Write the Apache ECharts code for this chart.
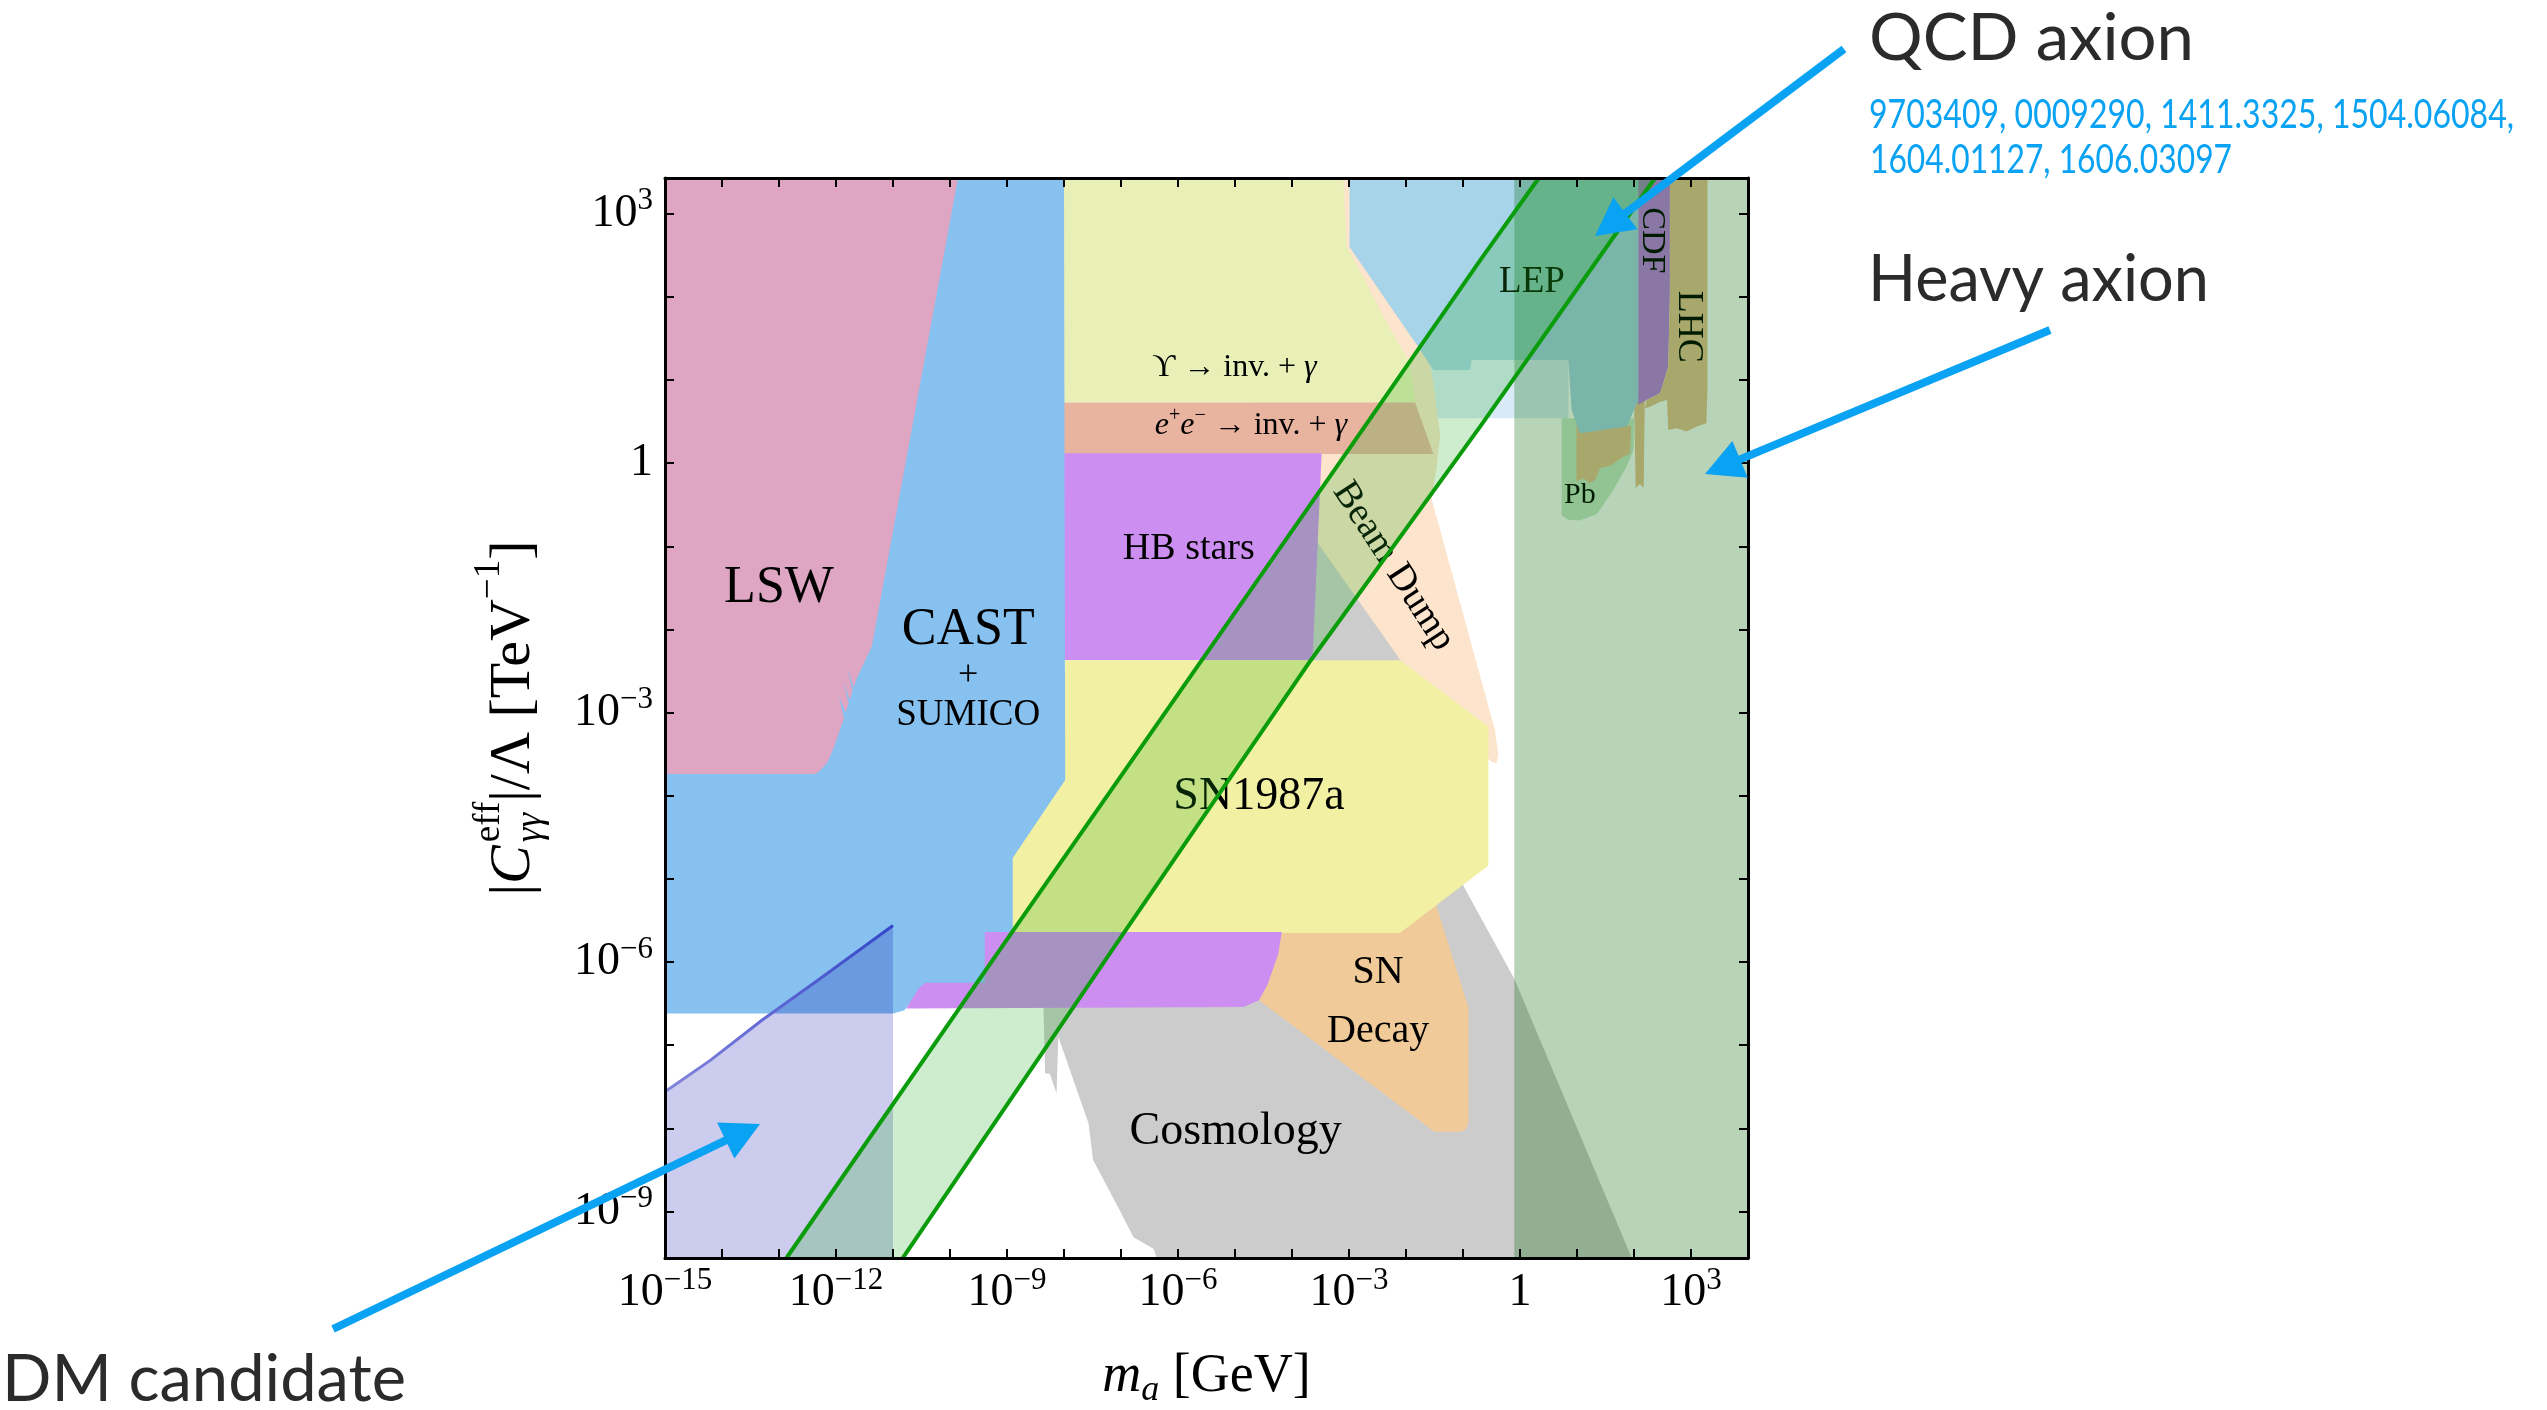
<!DOCTYPE html>
<html>
<head>
<meta charset="utf-8">
<script src="https://cdn.jsdelivr.net/npm/echarts@6/dist/echarts.min.js"></script>
<style>
  html, body { margin: 0; padding: 0; background: #ffffff; }
  #chart { width: 2547px; height: 1410px; }
</style>
</head>
<body>
<div id="chart"></div>
<script>
// Axis ranges, in log10 units (m_a in GeV, |C_gg^eff|/Lambda in TeV^-1)
const X_MIN = -15, X_MAX = 4;
const Y_MIN = -9.56, Y_MAX = 3.43;

const xTickDecades = [-15, -14, -13, -12, -11, -10, -9, -8, -7, -6, -5, -4, -3, -2, -1, 0, 1, 2, 3, 4];
const xLabelDecades = [-15, -12, -9, -6, -3, 0, 3];
const yTickDecades = [-9, -8, -7, -6, -5, -4, -3, -2, -1, 0, 1, 2, 3];
const yLabelDecades = [-9, -6, -3, 0, 3];

// Excluded regions: vertices as [log10 m_a, log10 coupling]
const cosmology = [[-8.36, -6.56], [-8.36, -2.5], [-3.72, -2.5], [-3.9, -0.6], [-2.0, -2.36], [-2.3, -2.7],
  [-0.98, -5.10], [-0.10, -6.20], [1.96, -9.56], [-6.37, -9.56], [-6.43, -9.45], [-6.78, -9.31],
  [-7.08, -8.91], [-7.49, -8.38], [-7.57, -7.94], [-8.10, -6.90], [-8.13, -7.58], [-8.25, -7.34], [-8.33, -7.34]];
const lepLow = [[-1.75, 1.3], [0.85, 1.3], [0.85, 0.54], [-1.75, 0.54]];
const beamDump = [[-4.7, 3.43], [-2.95, 3.43], [-2.95, 2.6], [-1.6, 1.3], [-1.53, 1.0], [-1.50, 0.86],
  [-1.40, 0.345], [-1.46, -0.04], [-1.55, -0.43], [-0.44, -3.21], [-0.38, -3.50], [-0.41, -3.61],
  [-0.50, -3.59], [-0.7, -3.45], [-2.105, -2.36], [-3.57, -0.94], [-4.7, 0.2]];
const upsilon = [[-8, 3.43], [-3.10, 3.43], [-3.04, 2.60], [-2.75, 2.24], [-2.43, 1.81], [-2.08, 1.38],
  [-1.93, 1.20], [-1.84, 0.73], [-8, 0.73]];
const eeBand = [[-8, 0.73], [-1.84, 0.73], [-1.52, 0.11], [-8, 0.11]];
const hbStars = [[-8, 0.12], [-3.48, 0.12], [-3.64, -2.37], [-8, -2.37]];
const snDecay = [[-4.2, -5.55], [-2.105, -5.55], [-1.50, -5.25], [-0.905, -6.55], [-0.905, -7.93],
  [-0.95, -8.01], [-1.03, -8.04], [-1.50, -8.04], [-4.58, -6.46], [-4.43, -6.27], [-4.24, -5.90]];
const sn1987a = [[-7.98, -2.37], [-2.105, -2.37], [-0.555, -3.17], [-0.555, -4.84], [-2.105, -5.65],
  [-9.39, -5.65], [-9.39, -5.21], [-9.09, -4.94], [-9.07, -5.60], [-8.98, -5.60], [-8.97, -4.77], [-7.98, -3.81]];
const castSumico = [[-15, 3.43], [-8, 3.43], [-7.98, -3.81], [-8.9, -4.75], [-8.9, -6.3], [-10.43, -6.3],
  [-10.58, -6.38], [-10.80, -6.58], [-10.99, -6.62], [-15, -6.62]];
const hbLow = [[-10.43, -6.25], [-9.39, -6.25], [-9.39, -5.64], [-4.18, -5.64], [-4.24, -5.90], [-4.43, -6.27],
  [-4.58, -6.46], [-4.85, -6.54], [-10.77, -6.56], [-10.70, -6.48], [-10.55, -6.32]];
const lsw = [[-15, 3.43], [-9.86, 3.43], [-11.37, -2.20], [-11.65, -2.61],
  [-11.69, -2.70], [-11.80, -2.46], [-11.71, -2.74], [-11.76, -2.85], [-11.87, -2.62], [-11.78, -2.89],
  [-11.83, -3.00], [-11.95, -2.80], [-11.86, -3.07],
  [-12.05, -3.44], [-12.15, -3.60], [-12.30, -3.71], [-12.37, -3.74], [-15, -3.74]];
const dmLine = [[-15, -7.56], [-14.2, -7.18], [-13.3, -6.70], [-12.3, -6.21], [-11.0, -5.56]];
const dmRegion = dmLine.concat([[-11.0, Y_MIN], [-15, Y_MIN]]);
const pbRegion = [[0.73, 0.54], [2.0, 0.54], [1.99, 0.16], [1.87, -0.04], [1.64, -0.32], [1.35, -0.61],
  [1.05, -0.69], [0.85, -0.68], [0.73, -0.63]];
const lhcLow = [[0.99, 0.45], [0.99, -0.22], [1.12, -0.18], [1.22, -0.24], [1.32, -0.20], [1.40, -0.06],
  [1.52, -0.04], [1.62, -0.02], [1.75, 0.05], [1.93, 0.12], [1.95, 0.45]];
const lhcSpike = [[2.00, 0.80], [2.19, 0.80], [2.17, -0.30], [2.10, -0.25], [2.03, -0.30]];
const lep = [[-2.99, 3.43], [2.08, 3.43], [2.08, 0.76], [1.87, 0.44], [1.05, 0.36], [0.906, 0.64],
  [0.848, 1.24], [-0.85, 1.24], [-0.88, 1.12], [-1.52, 1.12], [-1.81, 1.42], [-2.99, 2.60]];
const cdf = [[2.075, 3.43], [2.63, 3.43], [2.63, 2.04], [2.60, 1.16], [2.46, 0.84], [2.22, 0.76], [2.075, 0.70]];
const lhc = [[2.63, 3.43], [3.29, 3.43], [3.29, 0.92], [3.27, 0.48], [3.10, 0.44], [2.92, 0.38], [2.75, 0.42],
  [2.60, 0.40], [2.58, 0.76], [2.46, 0.74], [2.28, 0.68], [2.19, 0.66], [2.22, 0.76], [2.46, 0.84],
  [2.60, 1.16], [2.63, 2.04]];
const heavyAxion = [[-0.1, Y_MIN], [X_MAX, Y_MIN], [X_MAX, Y_MAX], [-0.1, Y_MAX]];

// QCD axion band edges
const qcdUpper = [[-12.87, -9.56], [-8.92, -5.65], [-3.04, 0.13], [-0.70, 2.44], [0.33, 3.43]];
const qcdLower = [[-10.83, -9.56], [-6.95, -5.65], [-3.67, -2.37], [-0.70, 0.44], [2.37, 3.43]];
const qcdBand = qcdUpper.concat(qcdLower.slice().reverse());

// Region names drawn inside the plot
const regionLabels = ['LSW', 'CAST', '+', 'SUMICO', 'ϒ → inv. + {i|γ}',
  '{i|e}{sp|+}{i|e}{sp|−} → inv. + {i|γ}', 'HB stars', 'Beam Dump', 'LEP', 'CDF', 'LHC', 'Pb',
  'SN1987a', 'SN', 'Decay', 'Cosmology'];

const SERIF = '"Liberation Serif", "Times New Roman", "DejaVu Serif", serif';
const SANS = 'Lato, "Open Sans", "Noto Sans", sans-serif';

// Where and how each region name is set
const labelLayout = [
  { at: [-13.0, -1.51], size: 52 },
  { at: [-9.68, -2.01], size: 52 },
  { at: [-9.68, -2.56], size: 36 },
  { at: [-9.68, -3.03], size: 37 },
  { at: [-5.01, 1.15], size: 32 },
  { at: [-4.72, 0.45], size: 32 },
  { at: [-5.81, -1.03], size: 38 },
  { at: [-2.22, -1.24], size: 38, rot: -57 },
  { at: [0.21, 2.17], size: 37 },
  { at: [2.31, 2.68], size: 34, rot: -90 },
  { at: [2.95, 1.64], size: 36, rot: -90 },
  { at: [1.05, -0.385], size: 30 },
  { at: [-4.58, -4.01], size: 46 },
  { at: [-2.49, -6.13], size: 40 },
  { at: [-2.49, -6.84], size: 40 },
  { at: [-4.99, -8.04], size: 46 }
];

// Fill colours, painted in this order
const layers = [
  { pts: cosmology, fill: '#cccccc' },
  { pts: lepLow, fill: '#d9eaf6' },
  { pts: beamDump, fill: '#fde4cc' },
  { pts: upsilon, fill: '#e8f0b8' },
  { pts: eeBand, fill: '#e8b4a0' },
  { pts: hbStars, fill: '#cc8ef0' },
  { pts: snDecay, fill: '#f0ca98' },
  { pts: sn1987a, fill: '#f2f0a2' },
  { pts: castSumico, fill: '#86c1ef' },
  { pts: hbLow, fill: '#cc8ef0' },
  { pts: lsw, fill: '#dea6c3' },
  { pts: dmRegion, fill: 'rgba(0,0,170,0.2)' },
  { pts: pbRegion, fill: '#cbe8cb' },
  { pts: lhcLow, fill: '#eac296' },
  { pts: lhcSpike, fill: '#eac296' },
  { pts: lep, fill: '#a8d4ea' },
  { pts: cdf, fill: '#c07ee6' },
  { pts: lhc, fill: '#eac296' }
];

function polygonSeries(pts, fill) {
  return {
    type: 'custom',
    coordinateSystem: 'cartesian2d',
    silent: true,
    clip: true,
    animation: false,
    data: [pts[0]],
    renderItem: (params, api) => ({
      type: 'polygon',
      shape: { points: pts.map(p => api.coord(p)) },
      style: { fill: fill }
    })
  };
}

const labelRich = {
  i: { fontFamily: SERIF, fontStyle: 'italic', fontSize: 32, lineHeight: 40, fill: '#000' },
  sp: { fontFamily: SERIF, fontSize: 20, lineHeight: 22, verticalAlign: 'top', fill: '#000' }
};

const labelSeries = {
  type: 'custom',
  coordinateSystem: 'cartesian2d',
  silent: true,
  clip: false,
  animation: false,
  data: labelLayout.map(l => l.at),
  renderItem: (params, api) => {
    const L = labelLayout[params.dataIndex];
    const p = api.coord(L.at);
    return {
      type: 'text',
      x: p[0],
      y: p[1],
      rotation: (L.rot || 0) * Math.PI / 180,
      style: {
        text: regionLabels[params.dataIndex],
        fontFamily: SERIF,
        fontSize: L.size,
        lineHeight: Math.round(L.size * 1.25),
        fill: '#000',
        align: 'center',
        verticalAlign: 'middle',
        rich: labelRich
      }
    };
  }
};

function lineSeries(data, color, width) {
  return {
    type: 'line',
    data: data,
    symbol: 'none',
    showSymbol: false,
    silent: true,
    animation: false,
    clip: true,
    lineStyle: { color: color, width: width }
  };
}

const series = layers.map(l => polygonSeries(l.pts, l.fill));
series.push(labelSeries);
series.push(polygonSeries(heavyAxion, 'rgba(0,100,0,0.28)'));
series.push(polygonSeries(qcdBand, 'rgba(32,168,32,0.22)'));
series.push(lineSeries(qcdUpper, '#0a9c0a', 4));
series.push(lineSeries(qcdLower, '#0a9c0a', 4));
series.push(lineSeries(dmLine, new echarts.graphic.LinearGradient(0, 0, 1, 0, [
  { offset: 0, color: '#8686dc' }, { offset: 1, color: '#3346c8' }
]), 3));

// Tick label text: powers of ten with a raised exponent
function powerLabel(v) {
  const n = Math.round(v);
  if (n === 0) return '{b|1}';
  return '{b|10}{s|' + (n < 0 ? '−' + (-n) : String(n)) + '}';
}
const tickRich = {
  b: { fontFamily: SERIF, fontSize: 46, lineHeight: 56, color: '#000' },
  s: { fontFamily: SERIF, fontSize: 31, lineHeight: 30, verticalAlign: 'top', color: '#000' }
};

function makeAxis(kind, position, showLabels) {
  const isX = kind === 'x';
  return {
    type: 'value',
    position: position,
    min: isX ? X_MIN : Y_MIN,
    max: isX ? X_MAX : Y_MAX,
    z: 10,
    axisLine: { show: true, onZero: false, lineStyle: { color: '#000', width: 3 } },
    axisTick: {
      show: true, inside: true, length: 9,
      customValues: isX ? xTickDecades : yTickDecades,
      lineStyle: { color: '#000', width: 2 }
    },
    axisLabel: {
      show: showLabels,
      customValues: isX ? xLabelDecades : yLabelDecades,
      formatter: powerLabel,
      margin: isX ? 7 : 12,
      rich: tickRich
    },
    splitLine: { show: false }
  };
}

const xAxisBottom = makeAxis('x', 'bottom', true);
xAxisBottom.name = '{i|m}{sub|a} [GeV]';
xAxisBottom.nameLocation = 'middle';
xAxisBottom.nameGap = 87;
xAxisBottom.nameTextStyle = {
  fontFamily: SERIF, fontSize: 54, lineHeight: 64, color: '#000',
  rich: {
    i: { fontFamily: SERIF, fontStyle: 'italic', fontSize: 54, lineHeight: 64, color: '#000' },
    sub: { fontFamily: SERIF, fontStyle: 'italic', fontSize: 36, lineHeight: 44, verticalAlign: 'bottom', color: '#000' }
  }
};

// Rotated y-axis title built from pieces (stacked super/subscript)
function yTitleGroup() {
  const ctx = document.createElement('canvas').getContext('2d');
  const measure = (t, size, italic) => {
    ctx.font = (italic ? 'italic ' : '') + size + 'px "Liberation Serif"';
    return ctx.measureText(t).width;
  };
  const B = 58, S = 37;
  const pieces = [
    [{ t: '|', size: B, dy: 0 }],
    [{ t: 'C', size: B, dy: 0, italic: true }],
    [{ t: 'eff', size: S, dy: -25 }, { t: 'γγ', size: S, dy: 17, italic: true }],
    [{ t: '|/Λ [TeV', size: B, dy: 0 }],
    [{ t: '−1', size: S, dy: -25 }],
    [{ t: ']', size: B, dy: 0 }]
  ];
  const children = [];
  let x = 0;
  pieces.forEach((grp, gi) => {
    let w = 0;
    grp.forEach(p => {
      children.push({
        type: 'text', x: x, y: p.dy,
        style: {
          text: p.t, fontFamily: SERIF, fontSize: p.size, fontStyle: p.italic ? 'italic' : 'normal',
          fill: '#000', align: 'left', verticalAlign: 'middle'
        }
      });
      w = Math.max(w, measure(p.t, p.size, p.italic));
    });
    x += w + (gi === 1 ? 3 : 0);
  });
  return {
    type: 'group',
    x: 514,
    y: 718 + x / 2,
    rotation: Math.PI / 2,
    children: children
  };
}

// Side notes and arrows
function sizedText(text, left, cy, width, size, color) {
  const ctx = document.createElement('canvas').getContext('2d');
  ctx.font = size + 'px Lato';
  const w = ctx.measureText(text).width || width;
  return {
    type: 'text', x: left, y: cy, scaleX: width / w, z: 100,
    style: { text: text, fontFamily: SANS, fontSize: size, fill: color, align: 'left', verticalAlign: 'middle' }
  };
}

function arrow(tail, tip, color) {
  const dx = tip[0] - tail[0], dy = tip[1] - tail[1];
  const len = Math.sqrt(dx * dx + dy * dy);
  const ux = dx / len, uy = dy / len;
  const headL = 38, headW = 40;
  const bx = tip[0] - ux * headL, by = tip[1] - uy * headL;
  const nx = -uy, ny = ux;
  return [
    { type: 'line', z: 100, shape: { x1: tail[0], y1: tail[1], x2: bx + ux * 4, y2: by + uy * 4 },
      style: { stroke: color, lineWidth: 8 } },
    { type: 'polygon', z: 100,
      shape: { points: [tip, [bx + nx * headW / 2, by + ny * headW / 2], [bx - nx * headW / 2, by - ny * headW / 2]] },
      style: { fill: color } }
  ];
}

const ARROW = '#0aa2f2';
const NOTE = '#2b2b2b';
const graphic = [
  yTitleGroup(),
  sizedText('QCD axion', 1869, 39, 325, 65, NOTE),
  sizedText('9703409, 0009290, 1411.3325, 1504.06084,', 1869, 115, 645, 40, ARROW),
  sizedText('1604.01127, 1606.03097', 1870, 160, 362, 40, ARROW),
  sizedText('Heavy axion', 1868, 280, 341, 65, NOTE),
  sizedText('DM candidate', 2, 1380, 404, 65, NOTE)
].concat(
  arrow([1844, 49], [1595, 236], ARROW),
  arrow([2050, 330], [1705, 474], ARROW),
  arrow([333, 1329], [760, 1124], ARROW)
);

const chart = echarts.init(document.getElementById('chart'), null, { renderer: 'canvas' });
chart.setOption({
  animation: false,
  backgroundColor: '#ffffff',
  grid: { left: 665, right: 799, top: 178, bottom: 152, containLabel: false, outerBoundsMode: 'none' },
  xAxis: [xAxisBottom, makeAxis('x', 'top', false)],
  yAxis: [makeAxis('y', 'left', true), makeAxis('y', 'right', false)],
  series: series,
  graphic: graphic
});
</script>
</body>
</html>
